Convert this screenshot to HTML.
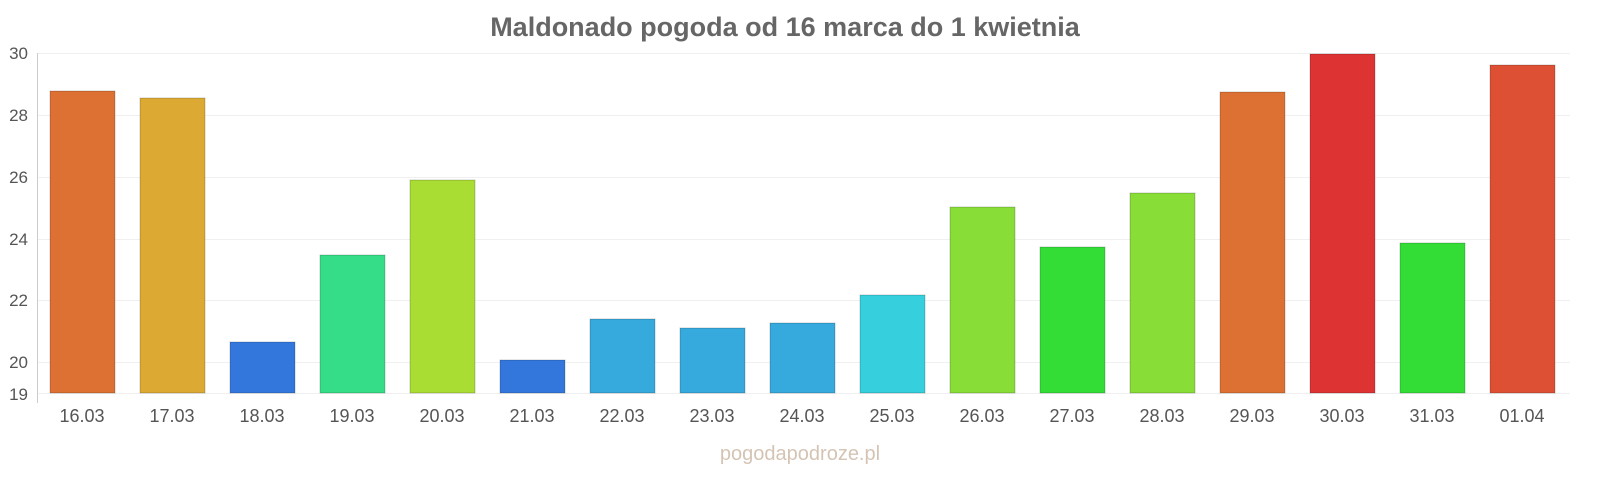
<!DOCTYPE html>
<html><head><meta charset="utf-8"><style>
body{margin:0;background:#fff;}
svg{display:block;font-family:"Liberation Sans",sans-serif;}
</style></head><body>
<svg width="1600" height="480" viewBox="0 0 1600 480">
<rect width="1600" height="480" fill="#fff"/>
<text x="785" y="36" text-anchor="middle" font-size="27" font-weight="bold" fill="#666">Maldonado pogoda od 16 marca do 1 kwietnia</text>
<g stroke="#f0f0f0" stroke-width="1">
<line x1="37" x2="1570" y1="53.5" y2="53.5"/>
<line x1="37" x2="1570" y1="115.5" y2="115.5"/>
<line x1="37" x2="1570" y1="177.5" y2="177.5"/>
<line x1="37" x2="1570" y1="239.5" y2="239.5"/>
<line x1="37" x2="1570" y1="300.5" y2="300.5"/>
<line x1="37" x2="1570" y1="362.5" y2="362.5"/>
<line x1="37" x2="1570" y1="393.5" y2="393.5"/>
</g>
<line x1="37.5" x2="37.5" y1="53" y2="403" stroke="#ccc"/>
<g font-size="17" fill="#555" text-anchor="end">
<text x="28" y="59">30</text><text x="28" y="121">28</text><text x="28" y="183">26</text>
<text x="28" y="245">24</text><text x="28" y="306">22</text><text x="28" y="368">20</text>
<text x="28" y="400">19</text>
</g>
<g stroke-width="1" stroke-opacity="0.2" stroke="#000">
<rect x="50" y="91" width="65" height="302" fill="#dd7033"/>
<rect x="140" y="98" width="65" height="295" fill="#dcaa33"/>
<rect x="230" y="342" width="65" height="51" fill="#3377dd"/>
<rect x="320" y="255" width="65" height="138" fill="#36dd88"/>
<rect x="410" y="180" width="65" height="213" fill="#aadd33"/>
<rect x="500" y="360" width="65" height="33" fill="#3377dd"/>
<rect x="590" y="319" width="65" height="74" fill="#36a9dd"/>
<rect x="680" y="328" width="65" height="65" fill="#36a9dd"/>
<rect x="770" y="323" width="65" height="70" fill="#36a9dd"/>
<rect x="860" y="295" width="65" height="98" fill="#36cfdd"/>
<rect x="950" y="207" width="65" height="186" fill="#88dd36"/>
<rect x="1040" y="247" width="65" height="146" fill="#33dd36"/>
<rect x="1130" y="193" width="65" height="200" fill="#88dd36"/>
<rect x="1220" y="92" width="65" height="301" fill="#dd7033"/>
<rect x="1310" y="54" width="65" height="339" fill="#dd3333"/>
<rect x="1400" y="243" width="65" height="150" fill="#33dd36"/>
<rect x="1490" y="65" width="65" height="328" fill="#dd5033"/>
</g>
<g font-size="18" fill="#555" text-anchor="middle">
<text x="82" y="422">16.03</text><text x="172" y="422">17.03</text><text x="262" y="422">18.03</text>
<text x="352" y="422">19.03</text><text x="442" y="422">20.03</text><text x="532" y="422">21.03</text>
<text x="622" y="422">22.03</text><text x="712" y="422">23.03</text><text x="802" y="422">24.03</text>
<text x="892" y="422">25.03</text><text x="982" y="422">26.03</text><text x="1072" y="422">27.03</text>
<text x="1162" y="422">28.03</text><text x="1252" y="422">29.03</text><text x="1342" y="422">30.03</text>
<text x="1432" y="422">31.03</text><text x="1522" y="422">01.04</text>
</g>
<text x="800" y="460" text-anchor="middle" font-size="20" fill="#d4c4b4">pogodapodroze.pl</text>
</svg>
</body></html>
